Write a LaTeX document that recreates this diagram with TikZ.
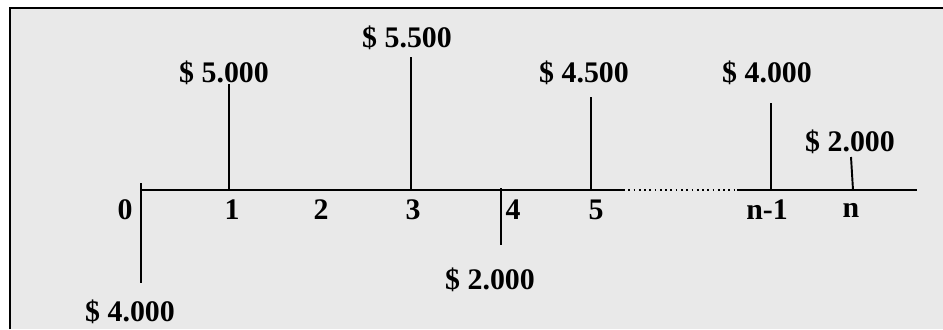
\documentclass[tikz,border=0pt]{standalone}
\usepackage{fontspec}
\setmainfont{Liberation Serif}
\usepackage{xcolor}
\usepackage{tikz}
\usetikzlibrary{positioning}
\definecolor{bggray}{RGB}{233,233,233}
\tikzstyle{amt}=[font=\fontsize{17}{19}\selectfont\bfseries, inner sep=1pt]
\tikzstyle{per}=[font=\fontsize{17}{19}\selectfont\bfseries, inner sep=1pt]
\tikzstyle{flow}=[line width=1.1pt]

\begin{document}
\begin{tikzpicture}
\useasboundingbox (-2.82,-2.78) rectangle (16.04,3.8);
% fondo y marco
\fill[bggray] (-2.62,-2.78) rectangle (16.04,3.64);
\draw[line width=1.5pt] (-2.62,-2.78)--(-2.62,3.64)--(16.04,3.64);
% eje de tiempo
\coordinate (a0) at (0,0);
\coordinate (a5) at (9.64,0);
\coordinate (an) at (11.92,0);
\coordinate (ad) at (12.22,0);
\coordinate (aend) at (15.52,0);
\draw[flow] (a0)--(a5);
\draw[line width=1pt,dotted] (a5)--(ad);
\draw[flow] (an)--(aend);
% periodos
\foreach \x/\lab/\nm in {-0.32/0/p0, 1.82/1/p1, 3.6/2/p2, 5.44/3/p3,
                         7.44/4/p4, 9.1/5/p5, 12.52/{n-1}/pn1, 14.2/n/pn}
  \node[per] (\nm) at (\x,-0.4) {\lab};
% flujos de caja
\foreach \x/\ya/\yb/\nm in {0/0.14/-1.86/f0, 1.76/0/2.12/f1, 5.4/0/2.66/f3,
                            7.2/0.04/-1.1/f4, 9.0/0/1.86/f5, 12.6/0/1.74/fn1} {
  \coordinate (\nm a) at (\x,\ya);
  \coordinate (\nm b) at (\x,\yb);
  \draw[flow] (\nm a)--(\nm b);
}
\coordinate (fna) at (14.24,0);
\coordinate (fnb) at (14.2,0.66);
\draw[flow] (fna)--(fnb);
% montos
\node[amt] (m1) at (1.66,2.34) {\$ 5.000};
\node[amt] (m3) at (5.32,3.04) {\$ 5.500};
\node[amt] (m5) at (8.86,2.34) {\$ 4.500};
\node[amt] (mn1) at (12.52,2.34) {\$ 4.000};
\node[amt] (mn) at (14.18,0.96) {\$ 2.000};
\node[amt] (m4) at (6.98,-1.8) {\$ 2.000};
\node[amt] (m0) at (-0.22,-2.44) {\$ 4.000};
\end{tikzpicture}
\end{document}
